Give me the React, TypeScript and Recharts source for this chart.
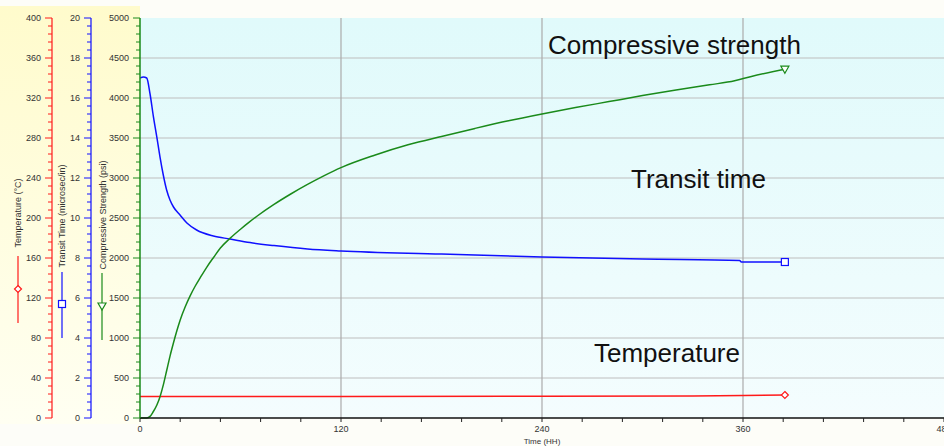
import { ComposedChart, Line, XAxis, YAxis, ReferenceLine } from "recharts";

// time in hours
const strengthHours = [0, 4, 6, 7.8, 10, 12, 14, 16, 18, 20, 22, 24, 27, 30, 33, 36, 40, 44, 48, 53.7, 60, 65, 70, 80, 90, 100, 110, 120, 140, 160, 180, 200, 220, 240, 260, 280, 300, 320, 340, 355, 365, 385];
const strengthPsi = [0, 0, 20, 75, 160, 270, 420, 600, 780, 940, 1090, 1225, 1390, 1530, 1650, 1755, 1890, 2010, 2125, 2245, 2360, 2445, 2525, 2670, 2800, 2920, 3030, 3130, 3285, 3415, 3520, 3620, 3715, 3800, 3880, 3955, 4030, 4100, 4165, 4215, 4270, 4360];

const transitHours = [0, 2, 4, 6, 8, 10, 11.9, 13.9, 15.9, 17.9, 20, 23.9, 28, 33.8, 43.8, 53.7, 65.7, 80, 100, 120, 180, 240, 300, 358, 359, 385];
const transitUs = [17.0, 17.05, 17.0, 16.2, 15.07, 14.07, 13.07, 12.15, 11.4, 10.9, 10.55, 10.15, 9.75, 9.4, 9.1, 8.95, 8.77, 8.62, 8.45, 8.35, 8.2, 8.05, 7.95, 7.88, 7.8, 7.8];

const tempHours = [0, 60, 120, 240, 330, 360, 385];
const tempC = [21.5, 21.5, 21.5, 21.8, 22, 22.5, 23];

const timeTicks = [0, 24, 48, 72, 96, 120, 144, 168, 192, 216, 240, 264, 288, 312, 336, 360, 384, 408, 432, 456, 480];
const timeLabels = [0, 120, 240, 360, 480];
const tempMajor = [0, 40, 80, 120, 160, 200, 240, 280, 320, 360, 400];
const transitMajor = [0, 2, 4, 6, 8, 10, 12, 14, 16, 18, 20];
const strengthMajor = [0, 500, 1000, 1500, 2000, 2500, 3000, 3500, 4000, 4500, 5000];
const gridHours = [120, 240, 360];
const gridPsi = [500, 1000, 1500, 2000, 2500, 3000, 3500, 4000, 4500];

const zip = (xs: number[], ys: number[]) => xs.map((t, i) => ({ t, v: ys[i] }));
const strengthData = zip(strengthHours, strengthPsi);
const transitData = zip(transitHours, transitUs);
const tempData = zip(tempHours, tempC);

// 5 minor subdivisions per major step
const withMinor = (major: number[]) => {
  const out: number[] = [];
  for (let i = 0; i < major.length - 1; i++) {
    const step = (major[i + 1] - major[i]) / 5;
    for (let k = 0; k < 5; k++) out.push(+(major[i] + k * step).toFixed(4));
  }
  out.push(major[major.length - 1]);
  return out;
};

const FONT = "'Liberation Sans', Arial, sans-serif";

const makeYTick = (major: number[], color: string) => (p: any) => {
  const v = p.payload.value;
  const isMajor = major.includes(v);
  return (
    <g key={`t${p.index}`}>
      <line x1={p.x - (isMajor ? 7 : 4)} x2={p.x} y1={p.y} y2={p.y} stroke={color} strokeWidth={1} />
      {isMajor && (
        <text x={p.x - 11} y={p.y} dy={3} textAnchor="end" fontSize={9} fontFamily={FONT} fill="#333">
          {v}
        </text>
      )}
    </g>
  );
};

const xTick = (p: any) => {
  const v = p.payload.value;
  const lab = timeLabels.includes(v);
  return (
    <g key={`x${p.index}`}>
      <line x1={p.x} x2={p.x} y1={p.y} y2={p.y + 4} stroke="#222" />
      {lab && (
        <text x={p.x} y={p.y + 14} textAnchor="middle" fontSize={9} fontFamily={FONT} fill="#333">
          {v}
        </text>
      )}
    </g>
  );
};

const endDot = (len: number, kind: string, color: string) => (p: any) => {
  if (p.index !== len - 1) return <g key={`d${p.index}`} />;
  const { cx, cy } = p;
  if (kind === "square")
    return <rect key="end" x={cx - 3.5} y={cy - 3.5} width={7} height={7} fill="#fff" stroke={color} strokeWidth={1.2} />;
  if (kind === "tri")
    return <path key="end" d={`M${cx - 4},${cy - 3} L${cx + 4},${cy - 3} L${cx},${cy + 4} Z`} fill="#fff" stroke={color} strokeWidth={1.2} />;
  return <path key="end" d={`M${cx},${cy - 3.5} L${cx + 3.5},${cy} L${cx},${cy + 3.5} L${cx - 3.5},${cy} Z`} fill="#fff" stroke={color} strokeWidth={1.2} />;
};

const RED = "#ff1a1a";
const BLUE = "#1010ff";
const GREEN = "#1a8a1a";

export default function App() {
  return (
    <div style={{ position: "absolute", left: 0, top: 0, width: 944, height: 446, background: "#fdfdf8", overflow: "hidden" }}>
      <div style={{ position: "absolute", left: 0, top: 6, width: 140, height: 418, background: "linear-gradient(#fffbcc, #fffff2)" }} />
      <div style={{ position: "absolute", left: 140, top: 18, width: 804, height: 400, background: "linear-gradient(#e0fafb, #f4fdfe)" }} />
      <div style={{ position: "absolute", left: 0, top: 0 }}>
        <ComposedChart width={944} height={446} margin={{ top: 18, right: 0, bottom: 0, left: 0 }}>
          <XAxis
            xAxisId="t"
            type="number"
            dataKey="t"
            domain={[0, 480]}
            ticks={timeTicks}
            interval={0}
            tickSize={0}
            tickMargin={0}
            tick={xTick}
            height={28}
            axisLine={{ stroke: "#111", strokeWidth: 1.5 }}
            allowDataOverflow
          />
          <YAxis
            yAxisId="a_str"
            type="number"
            domain={[0, 5000]}
            ticks={withMinor(strengthMajor)}
            interval={0}
            width={49}
            tickSize={0}
            tickMargin={0}
            tick={makeYTick(strengthMajor, GREEN)}
            axisLine={{ stroke: GREEN, strokeWidth: 1.5 }}
          />
          <YAxis
            yAxisId="b_tr"
            type="number"
            domain={[0, 20]}
            ticks={withMinor(transitMajor)}
            interval={0}
            width={39}
            tickSize={0}
            tickMargin={0}
            tick={makeYTick(transitMajor, BLUE)}
            axisLine={{ stroke: BLUE, strokeWidth: 1.2 }}
          />
          <YAxis
            yAxisId="c_tc"
            type="number"
            domain={[0, 400]}
            ticks={withMinor(tempMajor)}
            interval={0}
            width={52}
            tickSize={0}
            tickMargin={0}
            tick={makeYTick(tempMajor, RED)}
            axisLine={{ stroke: RED, strokeWidth: 1.2 }}
          />
          {gridPsi.map((v) => (
            <ReferenceLine key={`h${v}`} xAxisId="t" yAxisId="a_str" y={v} stroke="#bdbdbd" strokeWidth={1.2} />
          ))}
          {gridHours.map((v) => (
            <ReferenceLine key={`v${v}`} xAxisId="t" yAxisId="a_str" x={v} stroke="#ababab" strokeWidth={1.2} />
          ))}
          <Line
            xAxisId="t"
            yAxisId="c_tc"
            data={tempData}
            dataKey="v"
            type="linear"
            stroke={RED}
            strokeWidth={1.5}
            dot={endDot(tempData.length, "diamond", RED)}
            isAnimationActive={false}
          />
          <Line
            xAxisId="t"
            yAxisId="b_tr"
            data={transitData}
            dataKey="v"
            type="monotone"
            stroke={BLUE}
            strokeWidth={1.5}
            dot={endDot(transitData.length, "square", BLUE)}
            isAnimationActive={false}
          />
          <Line
            xAxisId="t"
            yAxisId="a_str"
            data={strengthData}
            dataKey="v"
            type="monotone"
            stroke={GREEN}
            strokeWidth={1.5}
            dot={endDot(strengthData.length, "tri", GREEN)}
            isAnimationActive={false}
          />
        </ComposedChart>
      </div>
      <svg width={944} height={446} style={{ position: "absolute", left: 0, top: 0, pointerEvents: "none" }}>
        <g fontFamily={FONT} fontSize={9} fill="#333">
          <text transform="translate(21,213) rotate(-90)" textAnchor="middle">Temperature (°C)</text>
          <text transform="translate(65,216) rotate(-90)" textAnchor="middle">Transit Time (microsec/in)</text>
          <text transform="translate(106,215) rotate(-90)" textAnchor="middle">Compressive Strength (psi)</text>
          <text x={542} y={444} textAnchor="middle" fontSize={8}>Time (HH)</text>
        </g>
        <line x1={18} x2={18} y1={256} y2={323} stroke={RED} strokeWidth={1.2} />
        <path d="M18,285.5 L21.5,289 L18,292.5 L14.5,289 Z" fill="#fff" stroke={RED} strokeWidth={1.2} />
        <line x1={62} x2={62} y1={272} y2={338} stroke={BLUE} strokeWidth={1.2} />
        <rect x={58.5} y={300.5} width={7} height={7} fill="#fff" stroke={BLUE} strokeWidth={1.2} />
        <line x1={102} x2={102} y1={273} y2={340} stroke={GREEN} strokeWidth={1.2} />
        <path d="M98,303 L106,303 L102,310 Z" fill="#fff" stroke={GREEN} strokeWidth={1.2} />
        <g fontFamily={FONT} fontSize={26} fill="#111">
          <text x={548} y={54}>Compressive strength</text>
          <text x={631} y={188}>Transit time</text>
          <text x={594} y={362}>Temperature</text>
        </g>
      </svg>
    </div>
  );
}
